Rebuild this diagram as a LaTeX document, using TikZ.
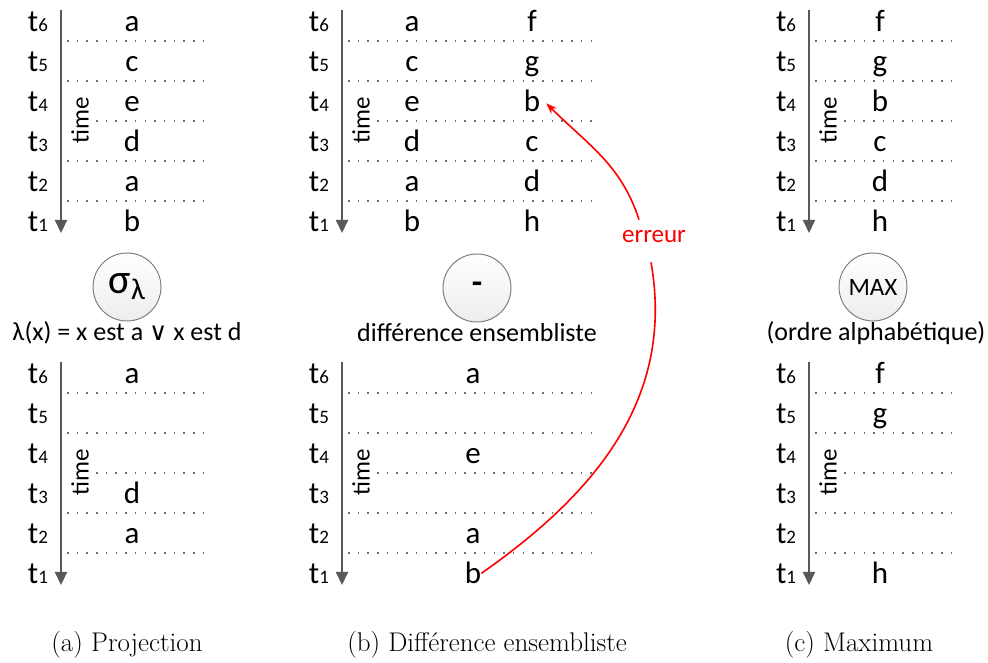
\documentclass[tikz,border=0pt]{standalone}
\usepackage{fontspec}
\newfontfamily\calibri{Carlito}
\newfontfamily\symbfont{DejaVu Sans}
\usepackage{tikz}
\usetikzlibrary{arrows.meta,positioning}
\definecolor{axis}{HTML}{595959}
\definecolor{dots}{HTML}{707070}
\definecolor{ring}{HTML}{7F7F7F}
\definecolor{errred}{HTML}{FF0000}
\newcommand\tk[1]{t{\fontsize{19}{20}\selectfont #1}}

\begin{document}
\begin{tikzpicture}[x=1pt,y=1pt,
  lbl/.style={font=\calibri\fontsize{31}{36}\selectfont,anchor=base,inner sep=0pt},
  timelbl/.style={font=\calibri\fontsize{25}{28}\selectfont,rotate=90,inner sep=0pt},
  timeaxis/.style={axis,line width=2pt,-{Triangle[length=13pt,width=12pt]}},
  dotline/.style={dots,line width=1.5pt,dash pattern=on 1.5pt off 8.2pt},
  op/.style={circle,draw=ring,line width=1pt,minimum size=68pt,inner sep=0pt,
    top color=white,bottom color=black!7,font=\calibri\fontsize{25}{28}\selectfont},
  oplbl/.style={font=\calibri\fontsize{26}{30}\selectfont,inner sep=0pt},
  caption/.style={font=\rmfamily\fontsize{27}{32}\selectfont,inner sep=0pt},
  errline/.style={errred,line width=1.6pt}]
  \useasboundingbox (0,0) rectangle (988,663);
  % the six time lines
  \foreach \p/\ax/\xe in {a/61/204,b/342/600,c/809/952}{
    \foreach \blk/\dy in {T/0,B/-352}{
      \coordinate (\p\blk-top) at (\ax,{653+(\dy)});
      \coordinate (\p\blk-end) at (\ax,{430+(\dy)});
      \draw[timeaxis] (\p\blk-top) -- (\p\blk-end);
      \foreach \k in {1,...,6}
        \node[lbl] (\p\blk-t\k) at ({\ax-23},{391+40*\k+(\dy)}) {\tk{\k}};
      \foreach \k in {1,2,4,5}
        \draw[dotline] ({\ax+6},{422+40*\k+(\dy)}) -- (\xe,{422+40*\k+(\dy)});
      \draw[dotline] ({\ax+35},{542+(\dy)}) -- (\xe,{542+(\dy)});
      \node[timelbl] (\p\blk-time) at ({\ax+19},{543+(\dy)}) {time};
    }
  }
  % values
  \foreach \v [count=\k] in {b,a,d,e,c,a}
    \node[lbl] (aT-v\k) at (132,{391+40*\k}) {\v};
  \foreach \v [count=\k] in {b,a,d,e,c,a}
    \node[lbl] (bT-v\k) at (412,{391+40*\k}) {\v};
  \foreach \v [count=\k] in {h,d,c,b,g,f}
    \node[lbl] (bT-w\k) at (532,{391+40*\k}) {\v};
  \foreach \v [count=\k] in {h,d,c,b,g,f}
    \node[lbl] (cT-v\k) at (880,{391+40*\k}) {\v};
  \foreach \k/\v in {6/a,3/d,2/a}
    \node[lbl] (aB-v\k) at (132,{39+40*\k}) {\v};
  \foreach \k/\v in {6/a,4/e,2/a,1/b}
    \node[lbl] (bB-v\k) at (473,{39+40*\k}) {\v};
  \foreach \k/\v in {6/f,5/g,1/h}
    \node[lbl] (cB-v\k) at (880,{39+40*\k}) {\v};
  % operators
  \node[op] (sigma) at (127,376) {{\fontsize{42}{46}\selectfont σ}\raisebox{-6pt}{\fontsize{30}{34}\selectfont λ}};
  \node[oplbl] (sigmalbl) at (127,330) {λ(x) = x est a {\symbfont\fontsize{25}{28}\selectfont ∨} x est d};
  \node[op] (minus) at (477,375) {\raisebox{-3pt}{\fontsize{34}{36}\selectfont\bfseries -}};
  \node[oplbl] (minuslbl) at (477,330) {différence ensembliste};
  \node[op] (max) at (873,376) {MAX};
  \node[oplbl] (maxlbl) at (876,330) {(ordre alphabétique)};
  % error
  \node[font=\calibri\fontsize{25}{28}\selectfont,text=errred,inner xsep=2pt,inner ysep=15pt] (err) at (654,426) {erreur};
  \draw[errline] (bB-v1.east) to[out=35,in=-80] ([xshift=-3pt,yshift=-4pt]err.south);
  \draw[errline,-{Stealth[length=11pt,width=8pt]}] ([xshift=-15pt,yshift=-4pt]err.north) to[out=108,in=-45] ([xshift=6pt,yshift=-2pt]bT-w4.east);
  % captions
  \node[caption] (capa) at (127,18) {(a) Projection};
  \node[caption] (capb) at (487,18) {(b) Différence ensembliste};
  \node[caption] (capc) at (859,18) {(c) Maximum};
\end{tikzpicture}
\end{document}
